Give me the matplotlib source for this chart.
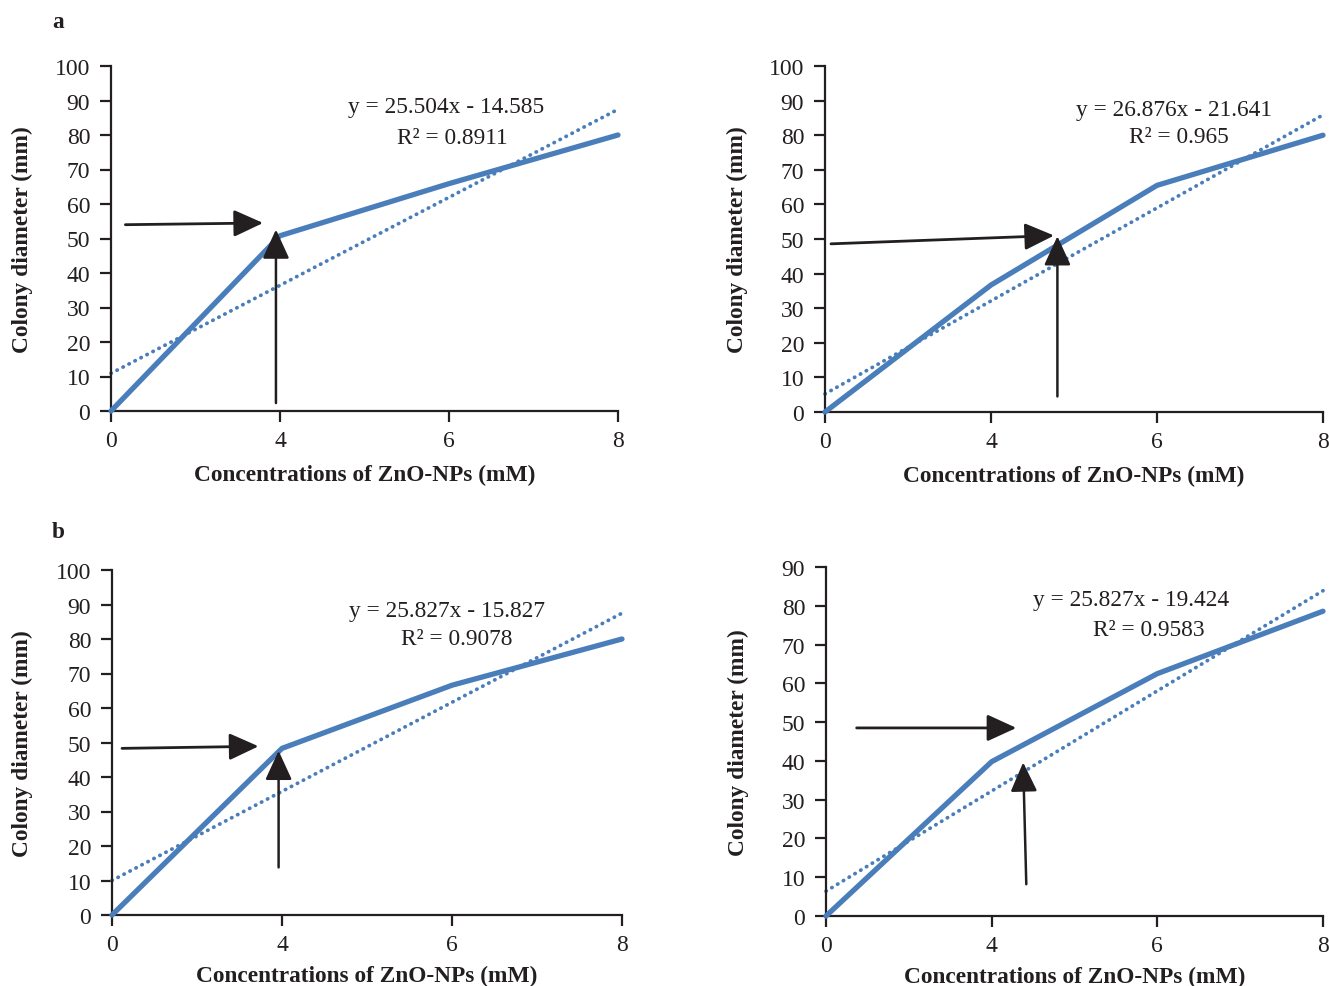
import numpy as np
import matplotlib.pyplot as plt

plt.rcParams["font.family"] = ["Liberation Serif", "DejaVu Serif"]

# ZnO-NP concentrations (category axis) and colony diameters per panel
conc_labels = ["0", "4", "6", "8"]
diam_a_left = [0, 50.8, 65.9, 80.0]
diam_a_right = [0, 36.7, 65.5, 80.0]
diam_b_left = [0, 48.3, 66.6, 80.0]
diam_b_right = [0, 39.8, 62.5, 78.6]

# Excel linear trendlines (x = category number 1..4)
slopes = [25.504, 26.876, 25.827, 25.827]
intercepts = [-14.585, -21.641, -15.827, -19.424]
r2_labels = ["0.8911", "0.965", "0.9078", "0.9583"]
y_tops = [100, 100, 100, 90]

# equation label anchors (category index, diameter)
eq_pos = [(1.98, 88.2), (2.10, 87.5), (1.97, 88.4), (1.84, 81.7)]
r2_pos = [(2.02, 79.3), (2.13, 79.6), (2.03, 80.2), (1.95, 73.8)]

# annotation arrows: (start, end) in data coords
h_arrows = [((0.085, 54.0), (0.90, 54.5)), ((0.036, 48.6), (1.38, 51.0)),
            ((0.059, 48.3), (0.862, 48.9)), ((0.185, 48.5), (1.149, 48.5))]
v_arrows = [((0.976, 2.3), (0.976, 52.6)), ((1.40, 4.5), (1.40, 50.8)),
            ((0.98, 13.8), (0.98, 47.6)), ((1.209, 8.2), (1.19, 39.6))]

series = [diam_a_left, diam_a_right, diam_b_left, diam_b_right]

# axes boxes in pixels: left, right, top, bottom
boxes = [(111, 618, 67, 412), (825, 1323, 67, 413),
         (112, 622, 571, 916), (826, 1323, 568, 917)]

W, H = 1329, 987
blue = "#4a7ebb"
ink = "#231f20"
fs = 16.8

fig = plt.figure(figsize=(W / 100, H / 100), dpi=100)

for k in range(4):
    l, r, t, b = boxes[k]
    ax = fig.add_axes([l / W, 1 - b / H, (r - l) / W, (b - t) / H])
    x = np.arange(len(conc_labels))
    ax.plot(x, series[k], color=blue, linewidth=3.8, solid_capstyle="round",
            clip_on=False, zorder=3)
    trend = slopes[k] * (x + 1) + intercepts[k]
    ax.plot(x, trend, color=blue, linewidth=2.7, linestyle=(0, (0.1, 1.7)),
            dash_capstyle="round", clip_on=False, zorder=2)

    ax.text(*eq_pos[k], f"y = {slopes[k]}x - {abs(intercepts[k])}",
            ha="center", va="center", fontsize=fs, color=ink)
    ax.text(*r2_pos[k], f"R² = {r2_labels[k]}", ha="center", va="center",
            fontsize=fs, color=ink)

    for (s, e), lw in [(h_arrows[k], 2.0), (v_arrows[k], 1.8)]:
        ax.annotate("", xy=e, xytext=s,
                    arrowprops=dict(arrowstyle="-|>,head_length=1.2,head_width=0.55",
                                    mutation_scale=15, color=ink, lw=lw,
                                    shrinkA=0, shrinkB=0), zorder=4)

    ax.set_xlim(0, 3)
    ax.set_ylim(0, y_tops[k])
    ax.set_xticks(x)
    ax.set_xticklabels(conc_labels)
    ax.set_yticks(np.arange(0, y_tops[k] + 1, 10))
    for side in ["top", "right"]:
        ax.spines[side].set_visible(False)
    for side in ["left", "bottom"]:
        ax.spines[side].set_linewidth(1.6)
        ax.spines[side].set_color(ink)
    ax.tick_params(axis="both", direction="out", length=8, width=1.6,
                   colors=ink, labelsize=17)
    ax.tick_params(axis="y", pad=7)
    ax.tick_params(axis="x", pad=6)
    ax.set_xlabel("Concentrations of ZnO-NPs (mM)", fontsize=fs,
                  fontweight="bold", color=ink, labelpad=9 if k < 2 else 7)
    ax.set_ylabel("Colony diameter (mm)", fontsize=fs, fontweight="bold",
                  color=ink)
    ax.yaxis.set_label_coords(-0.154, 0.5)

fig.text(58 / W, 1 - 22 / H, "a", fontsize=fs, fontweight="bold",
         ha="center", va="center", color=ink)
fig.text(58 / W, 1 - 532 / H, "b", fontsize=fs, fontweight="bold",
         ha="center", va="center", color=ink)

fig.savefig("out.png", dpi=100)
